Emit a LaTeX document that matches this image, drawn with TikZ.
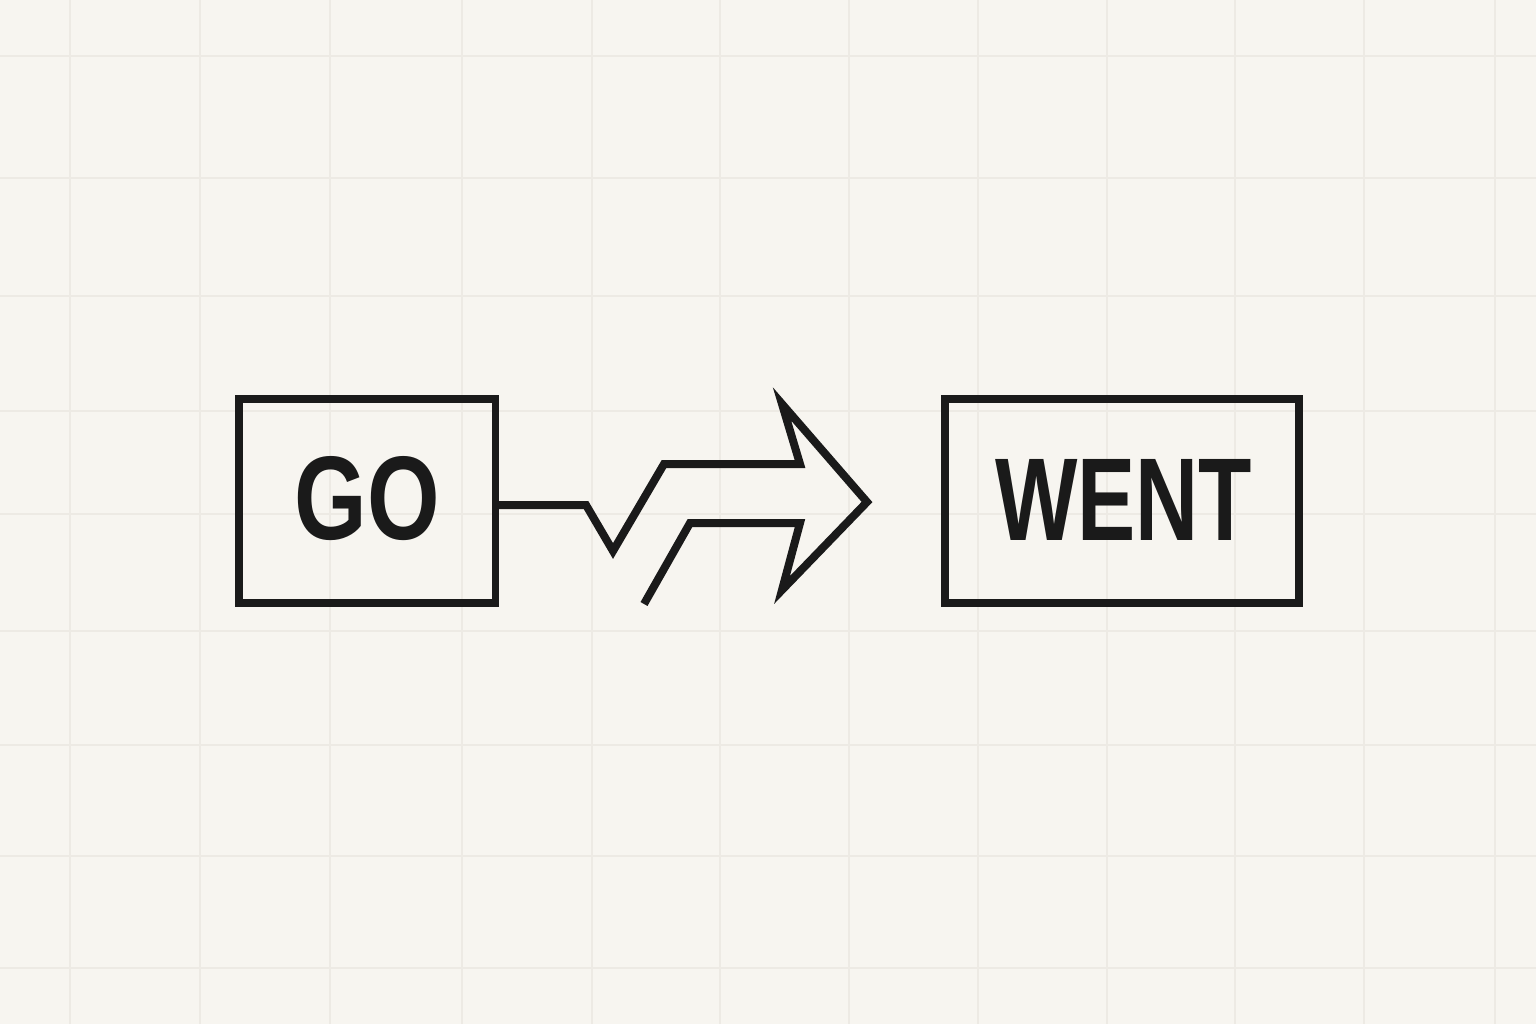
\documentclass[tikz,border=0pt]{standalone}
\usepackage{fontspec}
\setmainfont{Liberation Sans}
\usepackage{graphicx}
\definecolor{bg}{HTML}{F7F5F0}
\definecolor{gridc}{HTML}{EDEAE4}
\definecolor{ink}{HTML}{1A1A1A}
\tikzset{
  wordbox/.style={draw=ink, line width=7.5pt, inner sep=0pt, rectangle},
  wordtext/.style={text=ink, inner sep=0pt, font=\bfseries},
  zigline/.style={draw=ink, line width=8pt, line join=miter, miter limit=12},
}
\begin{document}
\begin{tikzpicture}[x=1pt,y=-1pt]
\fill[bg] (0,0) rectangle (1536,1024);
\useasboundingbox (0,0) rectangle (1536,1024);
% grid
\foreach \gx in {70,200,330,462,592,720,849,978,1107,1235,1364,1495}
  \draw[gridc, line width=1.3pt] (\gx,0) -- (\gx,1024);
\foreach \gy in {56,178,296,411,514,631,745,856,968}
  \draw[gridc, line width=1.3pt] (0,\gy) -- (1536,\gy);
% boxes
\node[wordbox, minimum width=256.5pt, minimum height=204pt] (go) at (367,501) {};
\node[wordbox, minimum width=354pt, minimum height=204pt] (went) at (1122,501) {};
\node[wordtext] (gotext) at (367.5,499) {\resizebox{145pt}{83pt}{GO}};
\node[wordtext] (wenttext) at (1123.5,499.5) {\resizebox{257pt}{81pt}{WENT}};
% zigzag arrow
\coordinate (p1) at (586,505);
\coordinate (p2) at (613,551);
\coordinate (p3) at (664,464);
\coordinate (p4) at (800,464);
\coordinate (p5) at (782,404);
\coordinate (p6) at (867,502);
\coordinate (p7) at (782,590);
\coordinate (p8) at (800,523);
\coordinate (p9) at (690,523);
\coordinate (p10) at (644,604);
\draw[zigline] (go.east |- p1) -- (p1) -- (p2) -- (p3) -- (p4) -- (p5) -- (p6) -- (p7) -- (p8) -- (p9) -- (p10);
\end{tikzpicture}
\end{document}
